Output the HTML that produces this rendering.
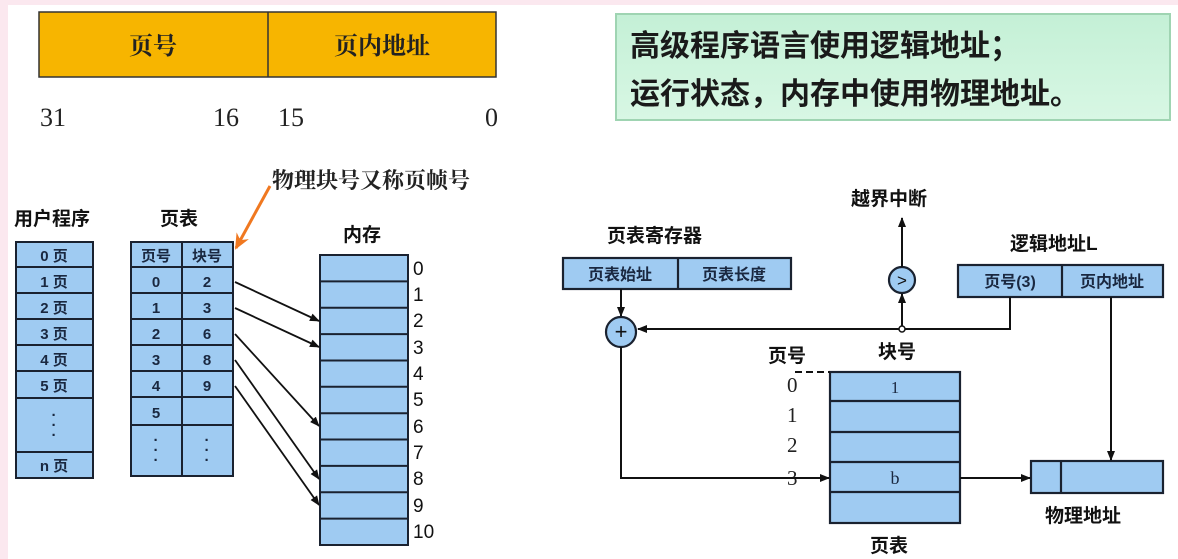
<!DOCTYPE html>
<html><head><meta charset="utf-8"><style>
html,body{margin:0;padding:0;background:#fff;}
body{width:1178px;height:559px;overflow:hidden;position:relative;}
svg{position:absolute;left:0;top:0;}
text{font-family:"Liberation Sans","Noto Sans CJK SC",sans-serif;}
.s{font-family:"Liberation Serif","Noto Serif CJK SC",serif;}
</style></head><body>
<svg width="1178" height="559" viewBox="0 0 1178 559">
<defs>
<marker id="a" markerWidth="10" markerHeight="8" refX="9" refY="4" orient="auto" markerUnits="userSpaceOnUse"><path d="M0,0 L10,4 L0,8 z" fill="#111"/></marker>
<marker id="o" markerWidth="16" markerHeight="14" refX="14" refY="7" orient="auto" markerUnits="userSpaceOnUse"><path d="M0,0 L16,7 L0,14 L5,7 z" fill="#f07820"/></marker>
<linearGradient id="g" x1="0" y1="0" x2="0" y2="1"><stop offset="0" stop-color="#c4f0d6"/><stop offset="1" stop-color="#d8f7e4"/></linearGradient>
</defs>
<rect x="0" y="0" width="1178" height="5" fill="#fbe8ef"/>
<rect x="0" y="0" width="8" height="559" fill="#fbe8ef"/>
<rect x="39" y="12" width="457" height="65" fill="#f7b500" stroke="#333" stroke-width="1.5"/>
<line x1="268" y1="12" x2="268" y2="77" stroke="#333" stroke-width="1.5"/>
<text x="153" y="54" font-size="24" text-anchor="middle" class="s" fill="#222" font-weight="bold">页号</text>
<text x="382" y="54" font-size="24" text-anchor="middle" class="s" fill="#222" font-weight="bold">页内地址</text>
<g font-size="26" fill="#222"><text x="40" y="126" class="s">31</text><text x="213" y="126" class="s">16</text><text x="278" y="126" class="s">15</text><text x="485" y="126" class="s">0</text></g>
<rect x="616" y="14" width="554" height="106" fill="url(#g)" stroke="#9fd4b2" stroke-width="2"/>
<text x="630" y="56" font-size="30" font-weight="bold" fill="#1a1a1a">高级程序语言使用逻辑地址；</text>
<text x="630" y="104" font-size="30" font-weight="bold" fill="#1a1a1a">运行状态，内存中使用物理地址。</text>
<g font-size="19" font-weight="bold" fill="#111">
<text x="14" y="225">用户程序</text><text x="160" y="225">页表</text><text x="343" y="241">内存</text>
</g>
<text x="272" y="188" font-size="22" class="s" fill="#222" font-weight="bold">物理块号又称页帧号</text>
<line x1="270" y1="186" x2="236" y2="248" stroke="#f07820" stroke-width="3" marker-end="url(#o)"/>
<g stroke="#1a2230" stroke-width="2" fill="#9fcbf2">
<rect x="16" y="242" width="77" height="236"/>
<line x1="16" y1="267" x2="93" y2="267"/><line x1="16" y1="293" x2="93" y2="293"/><line x1="16" y1="319" x2="93" y2="319"/><line x1="16" y1="345" x2="93" y2="345"/><line x1="16" y1="371" x2="93" y2="371"/><line x1="16" y1="398" x2="93" y2="398"/><line x1="16" y1="452" x2="93" y2="452"/>
<rect x="131" y="242" width="102" height="234"/>
<line x1="182" y1="242" x2="182" y2="476"/>
<line x1="131" y1="267" x2="233" y2="267"/><line x1="131" y1="293" x2="233" y2="293"/><line x1="131" y1="319" x2="233" y2="319"/><line x1="131" y1="345" x2="233" y2="345"/><line x1="131" y1="371" x2="233" y2="371"/><line x1="131" y1="397" x2="233" y2="397"/><line x1="131" y1="425" x2="233" y2="425"/>
<rect x="320" y="255" width="88" height="290"/>
<line x1="320" y1="281.4" x2="408" y2="281.4"/><line x1="320" y1="307.7" x2="408" y2="307.7"/><line x1="320" y1="334.1" x2="408" y2="334.1"/><line x1="320" y1="360.5" x2="408" y2="360.5"/><line x1="320" y1="386.8" x2="408" y2="386.8"/><line x1="320" y1="413.2" x2="408" y2="413.2"/><line x1="320" y1="439.5" x2="408" y2="439.5"/><line x1="320" y1="465.9" x2="408" y2="465.9"/><line x1="320" y1="492.3" x2="408" y2="492.3"/><line x1="320" y1="518.6" x2="408" y2="518.6"/>
</g>
<g font-size="15" font-weight="bold" fill="#1a2840" text-anchor="middle">
<text x="54" y="261">0 页</text><text x="54" y="287">1 页</text><text x="54" y="313">2 页</text><text x="54" y="339">3 页</text><text x="54" y="365">4 页</text><text x="54" y="391">5 页</text><text x="54" y="471">n 页</text>
<text x="54" y="420">·</text><text x="54" y="430">·</text><text x="54" y="440">·</text>
<text x="156" y="261">页号</text><text x="207" y="261">块号</text>
<text x="156" y="287">0</text><text x="207" y="287">2</text>
<text x="156" y="313">1</text><text x="207" y="313">3</text>
<text x="156" y="339">2</text><text x="207" y="339">6</text>
<text x="156" y="365">3</text><text x="207" y="365">8</text>
<text x="156" y="391">4</text><text x="207" y="391">9</text>
<text x="156" y="418">5</text>
<text x="156" y="445">·</text><text x="156" y="455">·</text><text x="156" y="465">·</text>
<text x="207" y="445">·</text><text x="207" y="455">·</text><text x="207" y="465">·</text>
</g>
<g font-size="19" fill="#111">
<text x="413" y="275">0</text><text x="413" y="301">1</text><text x="413" y="327">2</text><text x="413" y="354">3</text><text x="413" y="380">4</text><text x="413" y="406">5</text><text x="413" y="433">6</text><text x="413" y="459">7</text><text x="413" y="485">8</text><text x="413" y="512">9</text><text x="413" y="538">10</text>
</g>
<g stroke="#111" stroke-width="1.8" fill="none" marker-end="url(#a)">
<line x1="235" y1="282" x2="319" y2="321"/>
<line x1="235" y1="308" x2="319" y2="347"/>
<line x1="235" y1="334" x2="319" y2="426"/>
<line x1="235" y1="360" x2="319" y2="479"/>
<line x1="235" y1="386" x2="319" y2="505"/>
</g>
<g font-size="19" font-weight="bold" fill="#111">
<text x="607" y="242">页表寄存器</text>
<text x="851" y="205">越界中断</text>
<text x="1010" y="250">逻辑地址L</text>
<text x="768" y="362">页号</text>
<text x="878" y="358">块号</text>
<text x="1045" y="522">物理地址</text>
<text x="870" y="552">页表</text>
</g>
<g stroke="#1a2230" stroke-width="2.2" fill="#9fcbf2">
<rect x="563" y="258" width="228" height="31"/><line x1="678" y1="258" x2="678" y2="289"/>
<rect x="958" y="265" width="205" height="32"/><line x1="1062" y1="265" x2="1062" y2="297"/>
<rect x="830" y="372" width="130" height="151"/>
<line x1="830" y1="401" x2="960" y2="401"/><line x1="830" y1="432" x2="960" y2="432"/><line x1="830" y1="462" x2="960" y2="462"/><line x1="830" y1="492" x2="960" y2="492"/>
<rect x="1031" y="461" width="132" height="32"/><line x1="1061" y1="461" x2="1061" y2="493"/>
<circle cx="621" cy="332" r="15"/>
<circle cx="902" cy="280" r="13"/>
</g>
<g font-size="16" font-weight="bold" fill="#1a2840" text-anchor="middle">
<text x="620" y="280">页表始址</text><text x="734" y="280">页表长度</text>
<text x="1010" y="287">页号(3)</text><text x="1112" y="287">页内地址</text>
</g>
<text x="895" y="393" font-size="17" class="s" fill="#1a2840" text-anchor="middle">1</text>
<text x="895" y="484" font-size="18" class="s" fill="#1a2840" text-anchor="middle">b</text>
<text x="621" y="339" font-size="22" fill="#111" text-anchor="middle">+</text>
<text x="902" y="286" font-size="17" fill="#111" text-anchor="middle">&gt;</text>
<g font-size="21" fill="#222">
<text x="787" y="392" class="s">0</text><text x="787" y="422" class="s">1</text><text x="787" y="452" class="s">2</text><text x="787" y="485" class="s">3</text>
</g>
<line x1="795" y1="372" x2="830" y2="372" stroke="#111" stroke-width="2" stroke-dasharray="7,4"/>
<g stroke="#111" stroke-width="2" fill="none">
<line x1="621" y1="289" x2="621" y2="316" marker-end="url(#a)"/>
<polyline points="1010,297 1010,329 638,329" marker-end="url(#a)"/>
<line x1="902" y1="329" x2="902" y2="294" marker-end="url(#a)"/>
<line x1="902" y1="267" x2="902" y2="218" marker-end="url(#a)"/>
<polyline points="621,347 621,478 829,478" marker-end="url(#a)"/>
<line x1="960" y1="478" x2="1030" y2="478" marker-end="url(#a)"/>
<line x1="1111" y1="297" x2="1111" y2="460" marker-end="url(#a)"/>
</g>
<circle cx="902" cy="329" r="3" fill="#fff" stroke="#111" stroke-width="1.5"/>
</svg>
</body></html>
